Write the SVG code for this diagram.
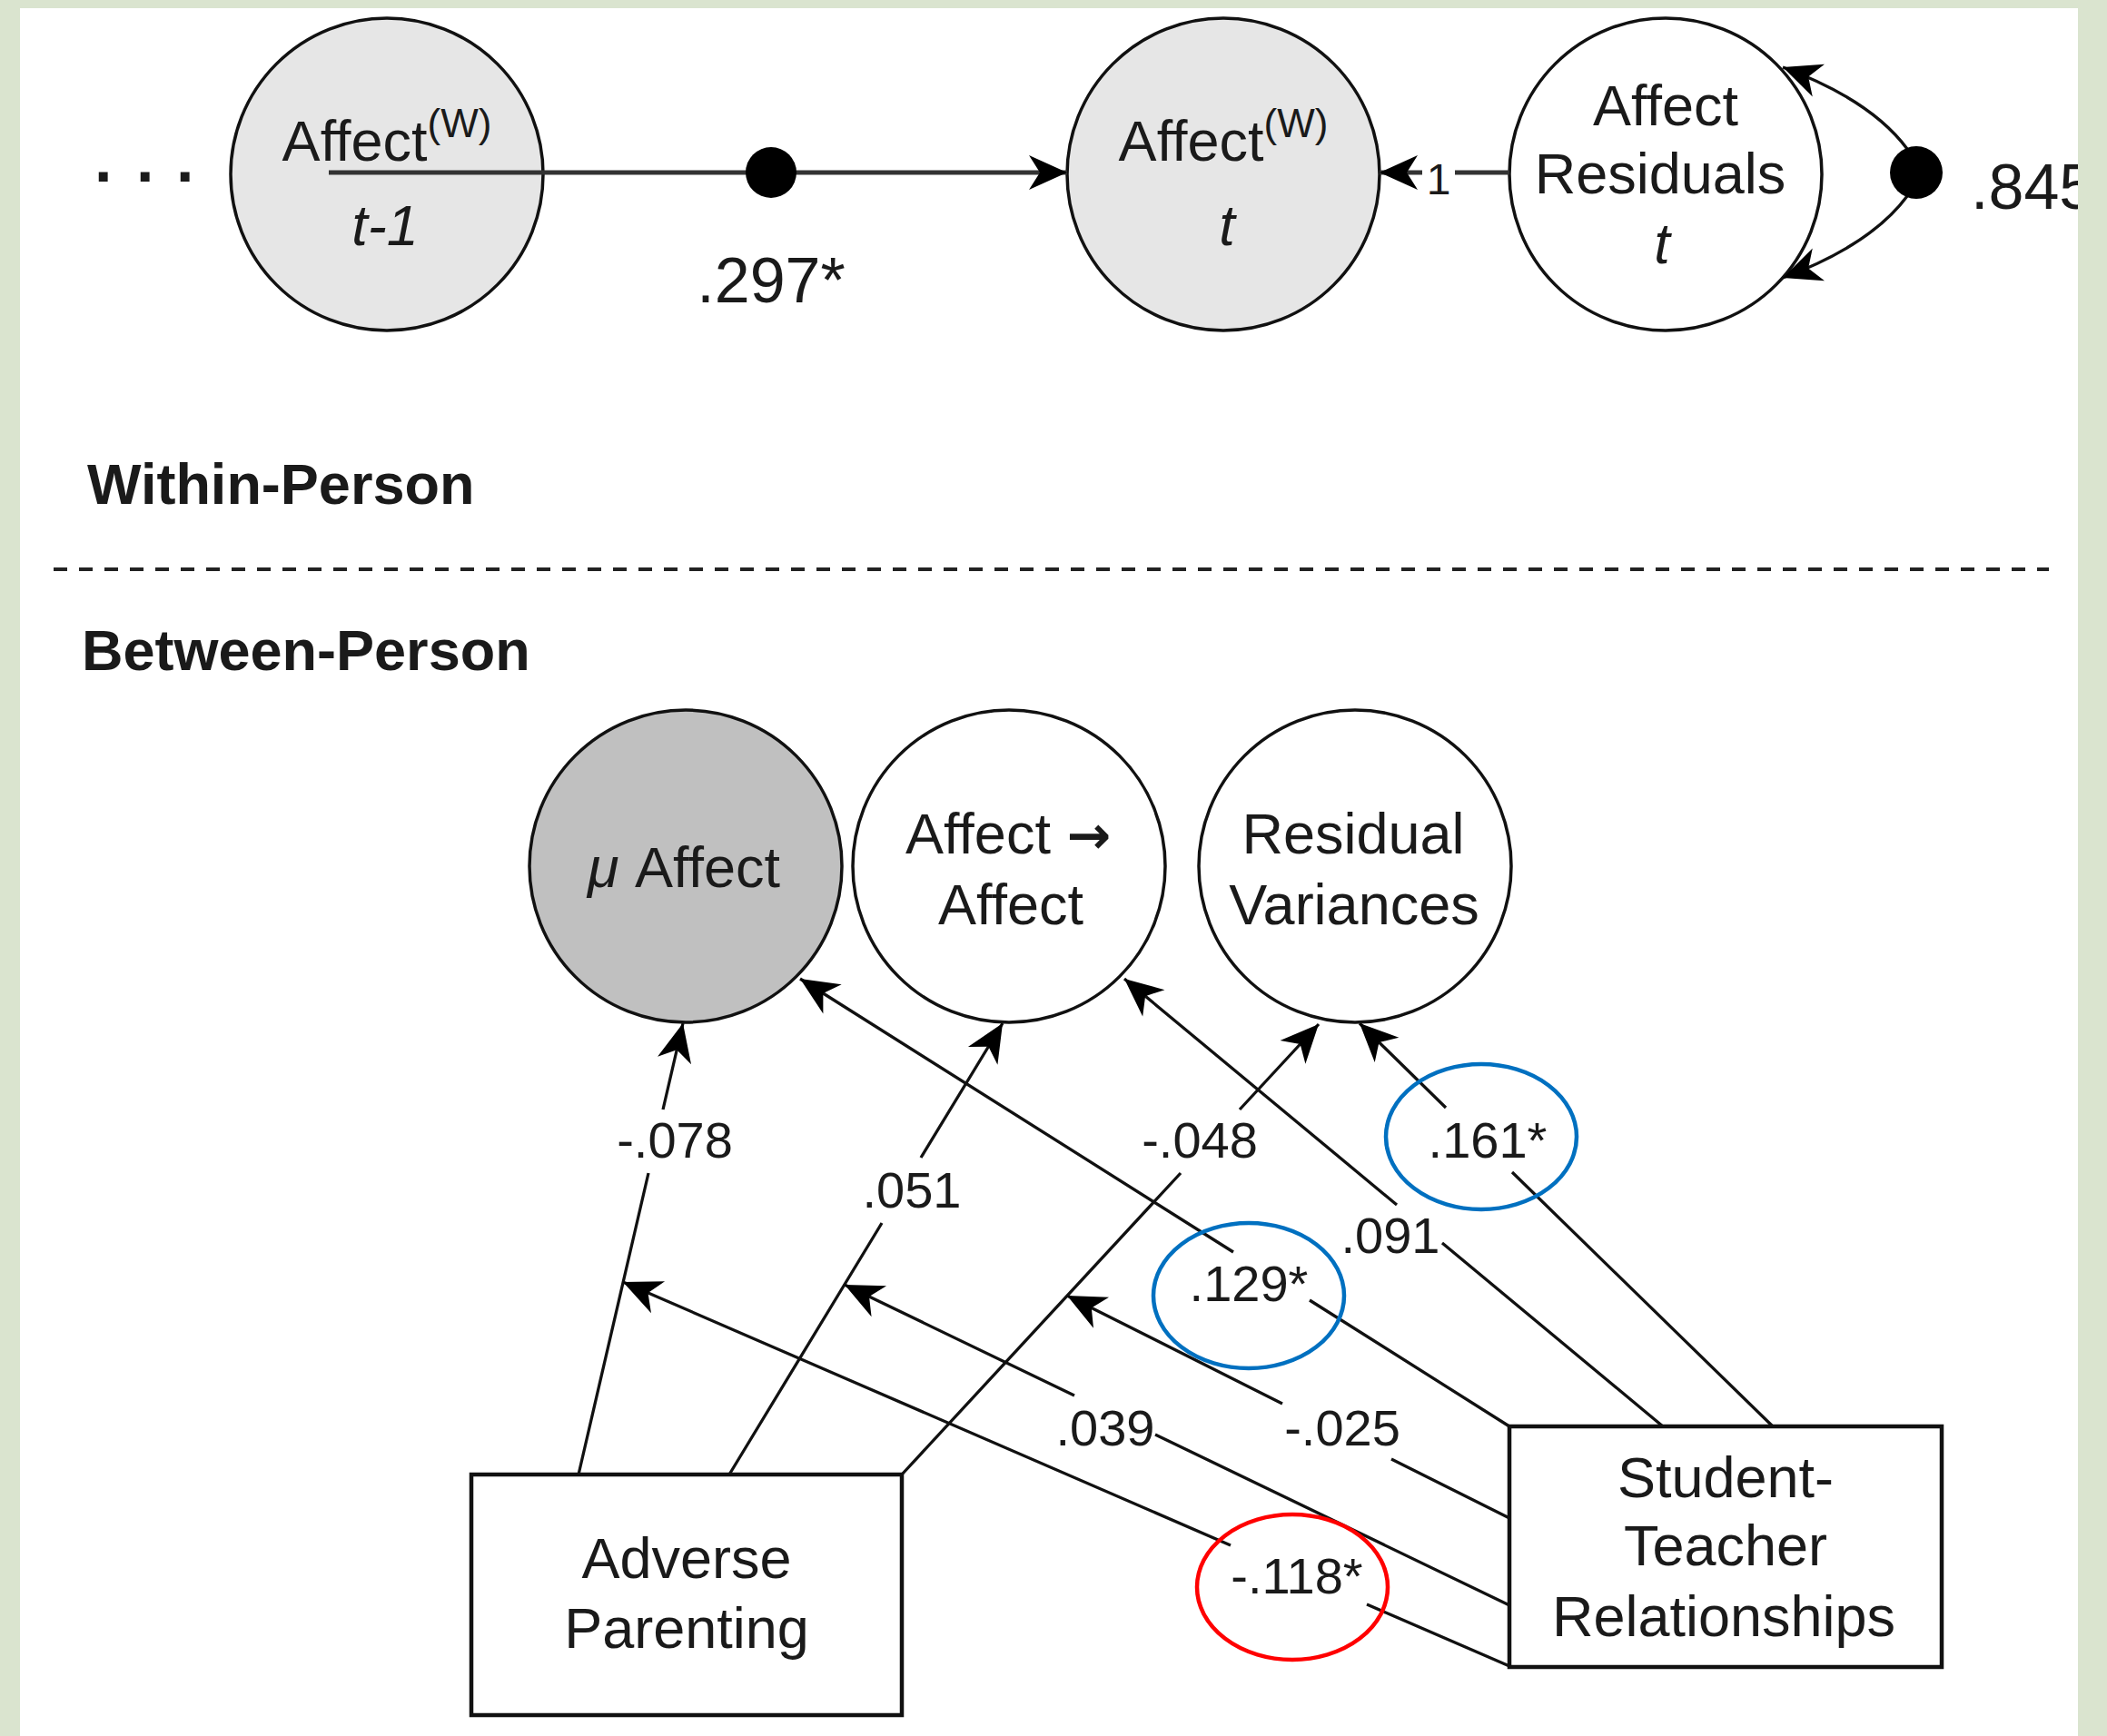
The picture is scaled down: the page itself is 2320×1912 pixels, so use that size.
<svg xmlns="http://www.w3.org/2000/svg" width="2320" height="1912" viewBox="0 0 2320 1912">
  <style>
    .node { stroke: #111; stroke-width: 3.5; }
    .lat-w { fill: #e6e6e6; }
    .lat-o { fill: #ffffff; }
    .lat-m { fill: #c0c0c0; }
    .box { fill: #ffffff; stroke: #111; stroke-width: 4.5; }
    .t { font-family: "Liberation Sans", Arial, sans-serif; fill: #1a1a1a; }
    .lbl { font-size: 63px; text-anchor: middle; }
    .ed { font-size: 56px; text-anchor: middle; }
    .big { font-size: 70px; }
    .hd { font-size: 63px; font-weight: bold; }
    .it { font-style: italic; }
    .conn { fill: none; stroke: #111; stroke-width: 3.3; }
    .main { fill: none; stroke: #333; stroke-width: 5; }
    .ring { fill: none; stroke-width: 4.5; }
  </style>
  <defs>
    <marker id="arr" viewBox="-44 -21 46 42" refX="0" refY="0" markerWidth="46" markerHeight="42" markerUnits="userSpaceOnUse" orient="auto">
      <path d="M0,0 L-42,-19 L-30,0 L-42,19 Z" fill="#000"/>
    </marker>
  </defs>

  <!-- page background and white panel -->
  <rect x="0" y="0" width="2320" height="1912" fill="#dae4cf"/>
  <rect x="22" y="9" width="2266" height="1903" fill="#ffffff"/>

  <!-- within-person nodes -->
  <g id="affect-t1">
    <circle class="node lat-w" cx="426" cy="192" r="172"/>
    <text class="t lbl" x="426" y="177">Affect<tspan font-size="44" dy="-26">(W)</tspan></text>
    <text class="t lbl it" x="424" y="270">t-1</text>
  </g>
  <g id="affect-t">
    <circle class="node lat-w" cx="1347" cy="192" r="172"/>
    <text class="t lbl" x="1347" y="177">Affect<tspan font-size="44" dy="-26">(W)</tspan></text>
    <text class="t lbl it" x="1351" y="270">t</text>
  </g>
  <g id="affect-residuals">
    <circle class="node lat-o" cx="1834" cy="192" r="172"/>
    <text class="t lbl" x="1834" y="138">Affect</text>
    <text class="t lbl" x="1828" y="213">Residuals</text>
    <text class="t lbl it" x="1830" y="290">t</text>
  </g>

  <!-- lead-in ellipsis -->
  <text class="t big" font-weight="bold" x="104 150 194" y="200">...</text>

  <!-- section labels and divider -->
  <text class="t hd" x="96" y="555">Within-Person</text>
  <line x1="59" y1="627" x2="2256" y2="627" stroke="#222" stroke-width="4" stroke-dasharray="15 13"/>
  <text class="t hd" x="90" y="738">Between-Person</text>

  <!-- between-person nodes -->
  <g id="mu-affect">
    <circle class="node lat-m" cx="755" cy="954" r="172"/>
    <text class="t lbl" x="753" y="977"><tspan class="it">μ</tspan> Affect</text>
  </g>
  <g id="affect-inertia">
    <circle class="node lat-o" cx="1111" cy="954" r="172"/>
    <text class="t lbl" x="1110" y="940">Affect <tspan font-family="DejaVu Sans, sans-serif" font-weight="bold" font-size="58">→</tspan></text>
    <text class="t lbl" x="1113" y="1018">Affect</text>
  </g>
  <g id="residual-variances">
    <circle class="node lat-o" cx="1492" cy="954" r="172"/>
    <text class="t lbl" x="1490" y="940">Residual</text>
    <text class="t lbl" x="1491" y="1018">Variances</text>
  </g>
  <g id="adverse-parenting">
    <rect class="box" x="519" y="1624" width="474" height="265"/>
    <text class="t lbl" x="756" y="1738">Adverse</text>
    <text class="t lbl" x="756" y="1815">Parenting</text>
  </g>
  <g id="student-teacher">
    <rect class="box" x="1662" y="1571" width="476" height="265"/>
    <text class="t lbl" x="1900" y="1649">Student-</text>
    <text class="t lbl" x="1900" y="1724">Teacher</text>
    <text class="t lbl" x="1898" y="1802">Relationships</text>
  </g>

  <!-- connectors -->
  <g id="connectors">
    <!-- autoregressive path with its random-slope dot -->
    <path class="main" d="M362,190 L1175,190" marker-end="url(#arr)"/>
    <circle cx="849" cy="190" r="28" fill="#000"/>
    <text class="t big" text-anchor="middle" x="849" y="333">.297*</text>

    <!-- residual loading -->
    <path class="main" d="M1662,190 L1519,190" marker-end="url(#arr)"/>
    <rect x="1566" y="166" width="36" height="52" fill="#ffffff"/>
    <text class="t" font-size="48" text-anchor="middle" x="1584" y="214">1</text>

    <!-- residual variance loop -->
    <path class="conn" d="M2100,164 Q2060,110 1963,74" marker-end="url(#arr)"/>
    <path class="conn" d="M2100,216 Q2060,270 1963,306" marker-end="url(#arr)"/>
    <circle cx="2110" cy="190" r="29" fill="#000"/>
    <text class="t big" x="2170" y="230">.845</text>

    <!-- adverse parenting effects -->
    <path class="conn" d="M637,1624 L714,1292 M730,1222 L752,1127" marker-end="url(#arr)"/>
    <path class="conn" d="M803,1624 L971,1347 M1014,1275 L1104,1127" marker-end="url(#arr)"/>
    <path class="conn" d="M993,1624 L1300,1292 M1365,1222 L1452,1128" marker-end="url(#arr)"/>

    <!-- student-teacher relationship effects -->
    <path class="conn" d="M1662,1571 L1442,1432 M1358,1379 L881,1078" marker-end="url(#arr)"/>
    <path class="conn" d="M1831,1571 L1588,1369 M1538,1327 L1238,1078" marker-end="url(#arr)"/>
    <path class="conn" d="M1952,1571 L1665,1291 M1592,1220 L1497,1127" marker-end="url(#arr)"/>

    <!-- moderation paths -->
    <path class="conn" d="M1662,1672 L1532,1607 M1412,1546 L1175,1427" marker-end="url(#arr)"/>
    <path class="conn" d="M1662,1768 L1272,1580 M1183,1537 L930,1415" marker-end="url(#arr)"/>
    <path class="conn" d="M1662,1835 L1505,1767 M1355,1702 L686,1412" marker-end="url(#arr)"/>

    <!-- path coefficients -->
    <text class="t ed" x="743" y="1275">-.078</text>
    <text class="t ed" x="1004" y="1330">.051</text>
    <text class="t ed" x="1321" y="1275">-.048</text>
    <text class="t ed" x="1638" y="1275">.161*</text>
    <text class="t ed" x="1531" y="1380">.091</text>
    <text class="t ed" x="1375" y="1433">.129*</text>
    <text class="t ed" x="1217" y="1592">.039</text>
    <text class="t ed" x="1478" y="1592">-.025</text>
    <text class="t ed" x="1428" y="1755">-.118*</text>
  </g>

  <!-- highlight rings -->
  <g id="highlights">
    <ellipse class="ring" stroke="#0070c0" cx="1631" cy="1252" rx="105" ry="80"/>
    <ellipse class="ring" stroke="#0070c0" cx="1375" cy="1427" rx="105" ry="80"/>
    <ellipse class="ring" stroke="#ff0000" cx="1423" cy="1748" rx="105" ry="80"/>
  </g>

  <!-- right page margin -->
  <rect x="2288" y="0" width="32" height="1912" fill="#dae4cf"/>
</svg>
